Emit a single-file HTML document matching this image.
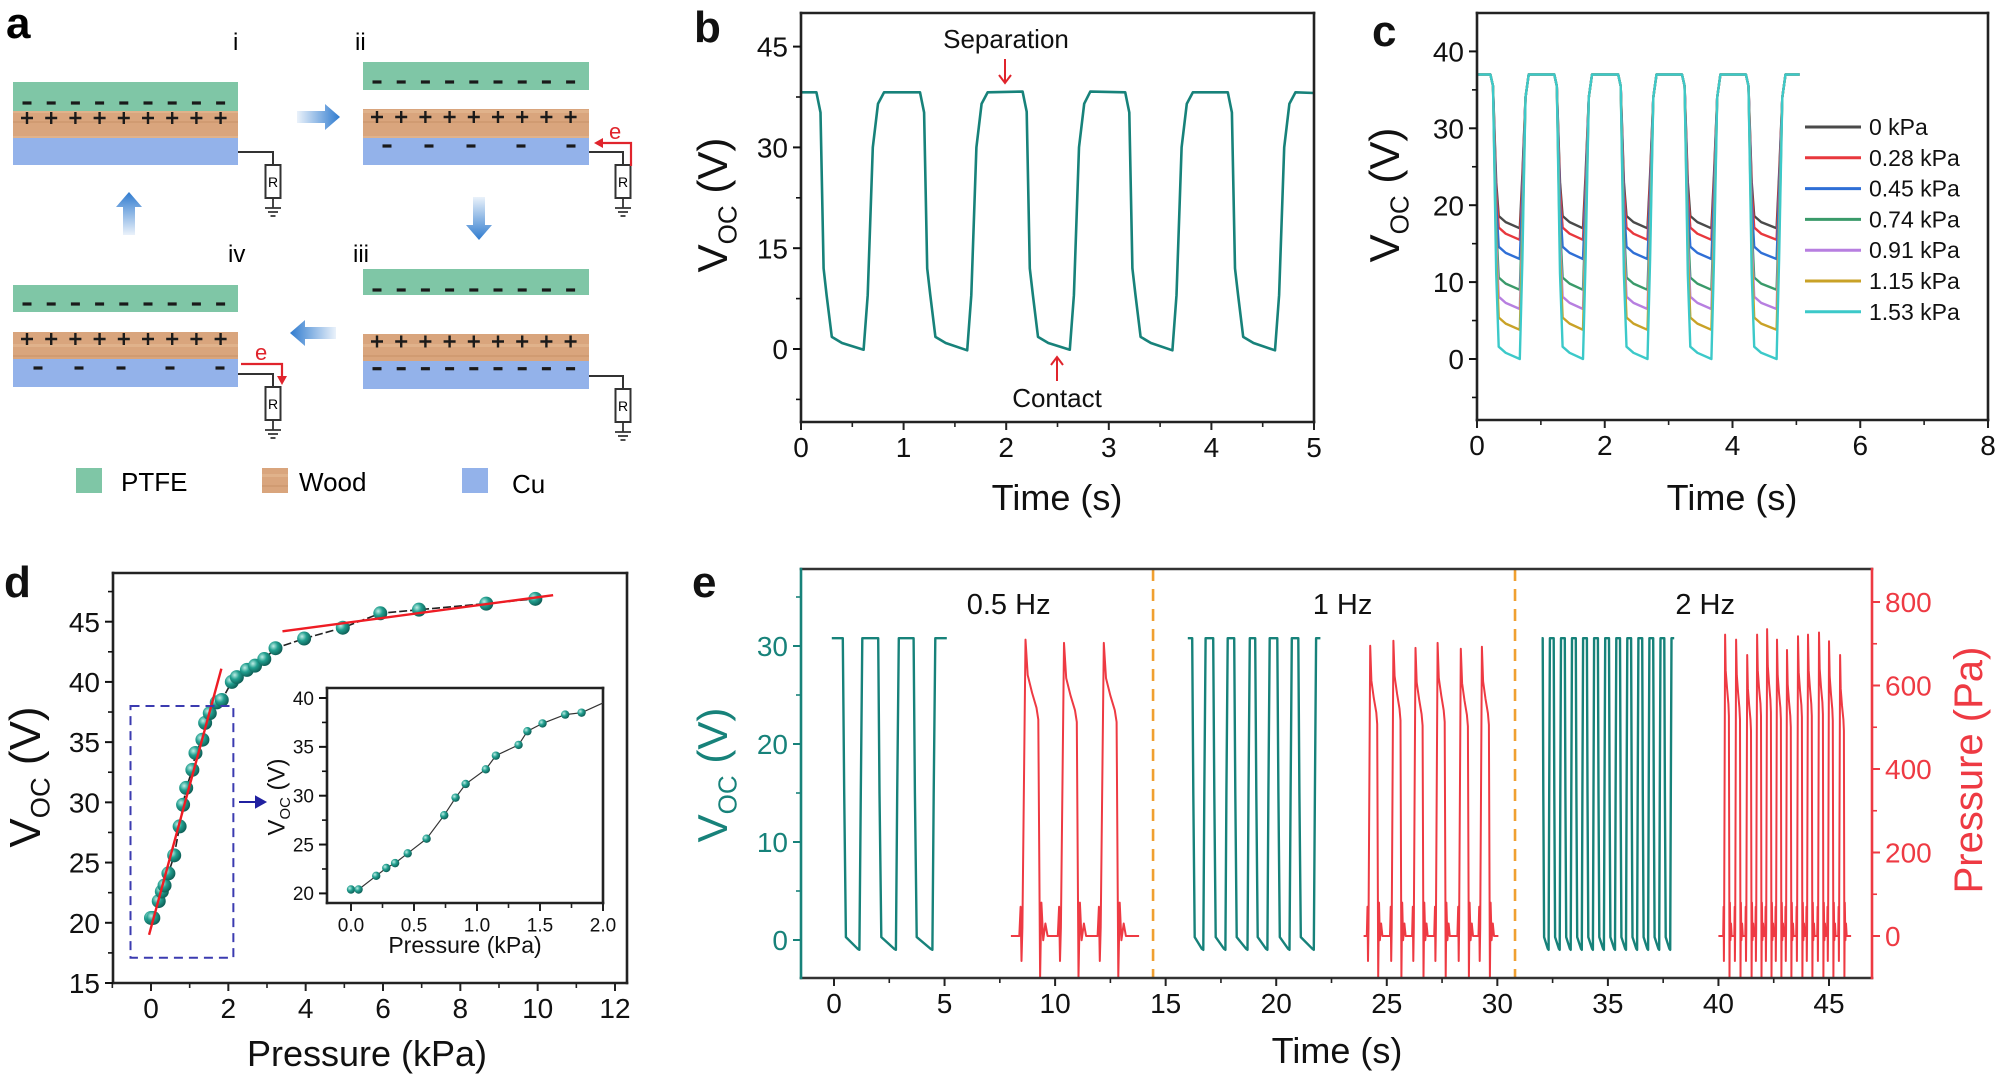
<!DOCTYPE html>
<html><head><meta charset="utf-8"><title>TENG figure</title>
<style>
html,body{margin:0;padding:0;background:#fff;}
svg{display:block;font-family:"Liberation Sans",Arial,sans-serif;}
</style></head>
<body>
<svg id="fig" width="2000" height="1078" viewBox="0 0 2000 1078" xmlns="http://www.w3.org/2000/svg">
<defs>
<linearGradient id="arrR" x1="0" y1="0" x2="1" y2="0"><stop offset="0" stop-color="#2f7bcf" stop-opacity="0.1"/><stop offset="1" stop-color="#2f7bcf"/></linearGradient>
<linearGradient id="arrL" x1="1" y1="0" x2="0" y2="0"><stop offset="0" stop-color="#2f7bcf" stop-opacity="0.1"/><stop offset="1" stop-color="#2f7bcf"/></linearGradient>
<linearGradient id="arrD" x1="0" y1="0" x2="0" y2="1"><stop offset="0" stop-color="#2f7bcf" stop-opacity="0.1"/><stop offset="1" stop-color="#2f7bcf"/></linearGradient>
<linearGradient id="arrU" x1="0" y1="1" x2="0" y2="0"><stop offset="0" stop-color="#2f7bcf" stop-opacity="0.1"/><stop offset="1" stop-color="#2f7bcf"/></linearGradient>
<radialGradient id="ball" cx="0.35" cy="0.35" r="0.7"><stop offset="0" stop-color="#bfeee6"/><stop offset="0.45" stop-color="#22a090"/><stop offset="1" stop-color="#0c5a52"/></radialGradient>
<pattern id="woodPat" width="40" height="26" patternUnits="userSpaceOnUse"><rect width="40" height="26" fill="#d9a57d"/><rect y="6" width="40" height="3" fill="#e3b892" opacity="0.7"/><rect y="17" width="40" height="2" fill="#c9946b" opacity="0.6"/></pattern>
</defs>

<g id="panelA">
<text x="6" y="38" font-size="44" font-weight="bold">a</text>
<text x="233" y="50" font-size="24">i</text>
<text x="355" y="50" font-size="24">ii</text>
<text x="353" y="262" font-size="24">iii</text>
<text x="228" y="262" font-size="24">iv</text>
<!-- block i -->
<rect x="13" y="82" width="225" height="30" fill="#7fc6a6"/>
<rect x="13" y="111" width="225" height="27" fill="url(#woodPat)"/>
<rect x="13" y="138" width="225" height="27" fill="#93b2ea"/>
<!-- block ii -->
<rect x="363" y="62" width="226" height="28" fill="#7fc6a6"/>
<rect x="363" y="109" width="226" height="29" fill="url(#woodPat)"/>
<rect x="363" y="138" width="226" height="27" fill="#93b2ea"/>
<!-- block iii -->
<rect x="363" y="269" width="226" height="26" fill="#7fc6a6"/>
<rect x="363" y="334" width="226" height="28" fill="url(#woodPat)"/>
<rect x="363" y="361" width="226" height="28" fill="#93b2ea"/>
<!-- block iv -->
<rect x="13" y="285" width="225" height="27" fill="#7fc6a6"/>
<rect x="13" y="332" width="225" height="27" fill="url(#woodPat)"/>
<rect x="13" y="359" width="225" height="28" fill="#93b2ea"/>
<g id="signs"></g>
<g id="circuits"></g>
<!-- arrows -->
<polygon points="297,111 325,111 325,104 340,117 325,130 325,123 297,123" fill="url(#arrR)"/>
<polygon points="473,197 485,197 485,225 492,225 479,240 466,225 473,225" fill="url(#arrD)"/>
<polygon points="336,327 305,327 305,320 290,333 305,346 305,339 336,339" fill="url(#arrL)"/>
<polygon points="123,235 135,235 135,207 142,207 129,192 116,207 123,207" fill="url(#arrU)"/>
<!-- electron flows -->
<polyline points="631,166 631,143 600,143" fill="none" stroke="#e0242c" stroke-width="2.2"/>
<polygon points="594,143 603,138 603,148" fill="#e0242c"/>
<text x="609" y="139" font-size="22" fill="#e0242c">e</text>
<polyline points="241,364 282,364 282,378" fill="none" stroke="#e0242c" stroke-width="2.2"/>
<polygon points="282,385 277,376 287,376" fill="#e0242c"/>
<text x="255" y="360" font-size="22" fill="#e0242c">e</text>
<!-- legend -->
<rect x="76" y="468" width="26" height="25" fill="#7fc6a6"/>
<text x="121" y="491" font-size="26">PTFE</text>
<rect x="262" y="468" width="26" height="25" fill="url(#woodPat)"/>
<text x="299" y="491" font-size="26">Wood</text>
<rect x="462" y="468" width="26" height="25" fill="#93b2ea"/>
<text x="512" y="493" font-size="26">Cu</text>
</g>

<g id="panelB"></g>
<g id="panelC"></g>
<g id="panelD"></g>
<g id="panelE"></g>
</svg>

<script>
// ---------------- data: panel b ----------------
const bFall = [0.15, 1.16, 2.16, 3.16, 4.16];
const bRise = [0.63, 1.64, 2.64, 3.64, 4.64];
const bHigh = [38.2, 38.2, 38.3, 38.2, 38.2];
const bLow = [-0.1, -0.2, -0.1, -0.2, -0.2];
const bYTicks = [0, 15, 30, 45];
const bXTicks = [0, 1, 2, 3, 4, 5];

// ---------------- data: panel c ----------------
const cLabels = ['0 kPa', '0.28 kPa', '0.45 kPa', '0.74 kPa', '0.91 kPa', '1.15 kPa', '1.53 kPa'];
const cLows = [17, 15.5, 13, 9, 6.5, 3.8, 0];
const cColors = ['#4a4a4a', '#e8383d', '#2f6fd6', '#3a9a6a', '#b77fe0', '#c9a227', '#3cc9c9'];
const cFall = [0.25, 1.25, 2.25, 3.25, 4.25];
const cRise = [0.68, 1.67, 2.68, 3.68, 4.70];
const cHigh = [37, 37, 37, 37, 37];
const cYTicks = [0, 10, 20, 30, 40];
const cXTicks = [0, 2, 4, 6, 8];

// ---------------- data: panel d ----------------
const dP = [0, 0.06, 0.2, 0.28, 0.35, 0.45, 0.6, 0.74, 0.83, 0.91, 1.07, 1.15, 1.33, 1.40, 1.52, 1.70, 1.83, 2.09, 2.22, 2.48, 2.69, 2.93, 3.22, 3.96, 4.96, 5.93, 6.93, 8.67, 9.94];
const dV = [20.4, 20.4, 21.8, 22.6, 23.1, 24.1, 25.6, 28.0, 29.8, 31.2, 32.7, 34.1, 35.2, 36.6, 37.4, 38.3, 38.5, 40.0, 40.4, 41.0, 41.35, 41.9, 42.8, 43.6, 44.5, 45.7, 46.0, 46.5, 46.9];
const dFit1P = [-0.05, 1.82];
const dFit1V = [19.0, 41.1];
const dFit2P = [3.4, 10.4];
const dFit2V = [44.2, 47.2];
const dYTicks = [15, 20, 25, 30, 35, 40, 45];
const dXTicks = [0, 2, 4, 6, 8, 10, 12];
const insetYTicks = [20, 25, 30, 35, 40];
const insetXTicks = [0.0, 0.5, 1.0, 1.5, 2.0];

// ---------------- data: panel e ----------------
const eFall05 = [0.4, 2.0, 3.6];
const eRise05 = [1.15, 2.8, 4.45];
const eFall1 = [16.2, 17.15, 18.1, 19.05, 20.05, 21.0];
const eRise1 = [16.7, 17.7, 18.7, 19.6, 20.6, 21.7];
const eFall2 = [32.05, 32.55, 33.05, 33.55, 34.05, 34.55, 35.05, 35.55, 36.05, 36.55, 37.05, 37.55];
const eRise2 = [32.32, 32.82, 33.32, 33.82, 34.32, 34.82, 35.32, 35.82, 36.32, 36.82, 37.32, 37.82];
const ePeakT05 = [8.66, 10.4, 12.2];
const ePeakP05 = [710, 702, 702];
const ePeakT1 = [24.25, 25.3, 26.3, 27.3, 28.35, 29.3];
const ePeakP1 = [695, 707, 690, 702, 688, 693];
const ePeakT2 = [40.3, 40.8, 41.3, 41.75, 42.2, 42.65, 43.1, 43.6, 44.05, 44.55, 45.0, 45.5];
const ePeakP2 = [722, 710, 673, 722, 735, 710, 685, 718, 722, 727, 706, 673];
const eYTicks = [0, 10, 20, 30];
const eY2Ticks = [0, 200, 400, 600, 800];
const eXTicks = [0, 5, 10, 15, 20, 25, 30, 35, 40, 45];
const eDividers = [14.43, 30.8];
const eFreqLabels = ['0.5 Hz', '1 Hz', '2 Hz'];
const eFreqT = [7.9, 23.0, 39.4];

// ---------------- helpers ----------------
const NS = 'http://www.w3.org/2000/svg';
function mk(tag, parent, attrs) {
  const e = document.createElementNS(NS, tag);
  for (const k in attrs) e.setAttribute(k, attrs[k]);
  parent.appendChild(e);
  return e;
}
function lin(d0, d1, r0, r1) { return v => r0 + (v - d0) * (r1 - r0) / (d1 - d0); }
function pathD(pts, sx, sy) { return pts.map((p, i) => (i ? 'L' : 'M') + sx(p[0]).toFixed(1) + ',' + sy(p[1]).toFixed(1)).join(''); }

function frame(g, box, name, colors) {
  const c = colors || {};
  const sides = [['top', box.l, box.t, box.r, box.t], ['bottom', box.l, box.b, box.r, box.b], ['left', box.l, box.t, box.l, box.b], ['right', box.r, box.t, box.r, box.b]];
  sides.forEach(s => {
    const ln = mk('line', g, { x1: s[1], y1: s[2], x2: s[3], y2: s[4], stroke: c[s[0]] || '#222', 'stroke-width': 2.6, 'stroke-linecap': 'square' });
    
    
  });
}
function xTicks(g, vals, sx, y, fs, name, minorVals, labelFmt) {
  vals.forEach(v => {
    const t = mk('line', g, { x1: sx(v), y1: y, x2: sx(v), y2: y + 8, stroke: '#222', 'stroke-width': 2 });
    
    
    const tx = mk('text', g, { x: sx(v), y: y + 14 + fs * 0.75, 'font-size': fs, 'text-anchor': 'middle', fill: '#111' });
    tx.textContent = labelFmt ? labelFmt(v) : String(v);
    
    
  });
  (minorVals || []).forEach(v => {
    const t = mk('line', g, { x1: sx(v), y1: y, x2: sx(v), y2: y + 5, stroke: '#222', 'stroke-width': 1.6 });
    
    
  });
}
function yTicks(g, vals, sy, x, fs, name, minorVals, color, right, labelFmt) {
  const col = color || '#111';
  const dir = right ? 1 : -1;
  vals.forEach(v => {
    const t = mk('line', g, { x1: x, y1: sy(v), x2: x + dir * 8, y2: sy(v), stroke: col, 'stroke-width': 2 });
    
    
    const tx = mk('text', g, { x: x + dir * 13, y: sy(v) + fs * 0.36, 'font-size': fs, 'text-anchor': right ? 'start' : 'end', fill: col });
    tx.textContent = labelFmt ? labelFmt(v) : String(v);
    
    
  });
  (minorVals || []).forEach(v => {
    const t = mk('line', g, { x1: x, y1: sy(v), x2: x + dir * 5, y2: sy(v), stroke: col, 'stroke-width': 1.6 });
    
    
  });
}
function vocTitle(g, cx, cy, fs, color, name) {
  const t = mk('text', g, { transform: 'translate(' + (cx + fs * 0.36) + ',' + cy + ') rotate(-90)', 'font-size': fs, 'text-anchor': 'middle', fill: color || '#111' });
  t.innerHTML = 'V<tspan font-size="' + (fs * 0.62) + '" dy="' + (fs * 0.22) + '">OC</tspan><tspan dy="' + (-fs * 0.22) + '"> (V)</tspan>';
  
  
  return t;
}
function label(g, x, y, txt, fs, name, extra) {
  const a = Object.assign({ x: x, y: y, 'font-size': fs, fill: '#111' }, extra || {});
  const t = mk('text', g, a);
  t.textContent = txt;
  
  
  return t;
}

// ---------------- panel a: signs & circuits ----------------
(function () {
  const g = document.getElementById('signs');
  const rowsMinus9 = [[27, 103], [377, 82], [377, 290], [27, 304], [377, 368.7]];
  rowsMinus9.forEach(r => {
    for (let i = 0; i < 9; i++) {
      const m = mk('rect', g, { x: r[0] + i * 24.2 - 4.5, y: r[1] - 1.6, width: 9, height: 3.2, fill: '#1a1a1a' });
      
      
    }
  });
  const rowsPlus = [[27, 118], [377, 117], [377, 341.5], [27, 339]];
  rowsPlus.forEach(r => {
    for (let i = 0; i < 9; i++) {
      const cx = r[0] + i * 24.2;
      const p = mk('path', g, { d: 'M' + (cx - 6) + ',' + r[1] + 'h12M' + cx + ',' + (r[1] - 6) + 'v12', stroke: '#1a1a1a', 'stroke-width': 2.4 });
      
      
    }
  });
  const cuMinus5 = [[[387, 429, 471, 521, 571], 146], [[38, 79, 121, 170, 220], 368]];
  cuMinus5.forEach(r => {
    r[0].forEach(x => {
      const m = mk('rect', g, { x: x - 4.5, y: r[1] - 1.6, width: 9, height: 3.2, fill: '#1a1a1a' });
      
      
    });
  });
  const cg = document.getElementById('circuits');
  const circuits = [[238, 152, 273, 165], [589, 152, 623, 165], [589, 376, 623, 389], [238, 374, 273, 387]];
  circuits.forEach(c => {
    const w = mk('polyline', cg, { points: c[0] + ',' + c[1] + ' ' + c[2] + ',' + c[1] + ' ' + c[2] + ',' + c[3], fill: 'none', stroke: '#333', 'stroke-width': 2 });
    
    
    const r = mk('rect', cg, { x: c[2] - 7.5, y: c[3], width: 15, height: 33, fill: '#fff', stroke: '#333', 'stroke-width': 2 });
    
    
    const t = mk('text', cg, { x: c[2], y: c[3] + 22, 'font-size': 14, 'text-anchor': 'middle' });
    t.textContent = 'R';
    
    
    const gr = mk('path', cg, { d: 'M' + c[2] + ',' + (c[3] + 33) + 'v10M' + (c[2] - 8) + ',' + (c[3] + 43) + 'h16M' + (c[2] - 5) + ',' + (c[3] + 47) + 'h10M' + (c[2] - 2.5) + ',' + (c[3] + 51) + 'h5', stroke: '#333', 'stroke-width': 1.8 });
    
    
  });
})();

// ---------------- panel b ----------------
(function () {
  const g = document.getElementById('panelB');
  const box = { l: 801, r: 1314, t: 13, b: 422 };
  const sx = lin(0, 5, 801, 1314), sy = lin(0, 45, 349, 46.6);
  label(g, 694, 42, 'b', 44, 'panel-label-b', { 'font-weight': 'bold' });
  const pts = [[0, bHigh[0]]];
  for (let i = 0; i < bFall.length; i++) {
    const f = bFall[i], r = bRise[i], H = bHigh[i], L = bLow[i];
    pts.push([f, H], [f + 0.04, H - 3], [f + 0.07, 12], [f + 0.1, 8], [f + 0.15, 1.8], [f + 0.25, 0.9], [r - 0.02, L], [r + 0.02, 8], [r + 0.07, 30], [r + 0.12, 36.5], [r + 0.18, H]);
  }
  pts.push([5, 38.1]);
  const p = mk('path', g, { d: pathD(pts, sx, sy), fill: 'none', stroke: '#17827a', 'stroke-width': 2.6, 'stroke-linejoin': 'round' });
  
  
  frame(g, box, 'panel-b');
  xTicks(g, bXTicks, sx, box.b, 28, 'panel-b', [0.5, 1.5, 2.5, 3.5, 4.5]);
  yTicks(g, bYTicks, sy, box.l, 28, 'panel-b', [-7.5, 7.5, 22.5, 37.5]);
  vocTitle(g, 712, 205, 42, '#111', 'panel-b-y-axis-title');
  label(g, 1057, 510, 'Time (s)', 36, 'panel-b-x-axis-title', { 'text-anchor': 'middle' });
  label(g, 1006, 48, 'Separation', 26, 'separation-annotation', { 'text-anchor': 'middle' });
  const a1 = mk('path', g, { d: 'M1005,59V82M999,75L1005,83L1011,75', fill: 'none', stroke: '#e0242c', 'stroke-width': 2 });
  
  
  label(g, 1057, 407, 'Contact', 26, 'contact-annotation', { 'text-anchor': 'middle' });
  const a2 = mk('path', g, { d: 'M1057,381V358M1051,365L1057,357L1063,365', fill: 'none', stroke: '#e0242c', 'stroke-width': 2 });
  
  
})();

// ---------------- panel c ----------------
(function () {
  const g = document.getElementById('panelC');
  const box = { l: 1477, r: 1988, t: 13, b: 420 };
  const sx = lin(0, 8, 1477, 1988), sy = lin(0, 40, 359, 51.4);
  label(g, 1372, 46, 'c', 44, 'panel-label-c', { 'font-weight': 'bold' });
  cLows.forEach((low, s) => {
    const pts = [[0, 37]];
    for (let i = 0; i < cFall.length; i++) {
      const f = cFall[i], r = cRise[i], H = cHigh[i];
      pts.push([f - 0.04, H], [f, H - 1.5], [f + 0.05, low + (H - low) * 0.3], [f + 0.09, low + 1.6], [f + 0.2, low + 0.8], [r - 0.01, low], [r + 0.03, low + (H - low) * 0.35], [r + 0.08, H - 3], [r + 0.13, H]);
    }
    pts.push([5.05, 37]);
    const p = mk('path', g, { d: pathD(pts, sx, sy), fill: 'none', stroke: cColors[s], 'stroke-width': 2.4, 'stroke-linejoin': 'round' });
    
    
    const ly = 127 + s * 30.8;
    const ll = mk('line', g, { x1: 1805, y1: ly, x2: 1861, y2: ly, stroke: cColors[s], 'stroke-width': 3 });
    
    
    label(g, 1869, ly + 8, cLabels[s], 23, 'legend-entry');
  });
  frame(g, box, 'panel-c');
  xTicks(g, cXTicks, sx, box.b, 28, 'panel-c', [1, 3, 5, 7]);
  yTicks(g, cYTicks, sy, box.l, 28, 'panel-c', [-5, 5, 15, 25, 35]);
  vocTitle(g, 1384, 195, 42, '#111', 'panel-c-y-axis-title');
  label(g, 1732, 510, 'Time (s)', 36, 'panel-c-x-axis-title', { 'text-anchor': 'middle' });
})();

// ---------------- panel d ----------------
(function () {
  const g = document.getElementById('panelD');
  const box = { l: 113, r: 627, t: 573, b: 983 };
  const sx = lin(0, 12, 151, 615), sy = lin(15, 45, 983, 621.7);
  label(g, 4, 597, 'd', 44, 'panel-label-d', { 'font-weight': 'bold' });
  frame(g, box, 'panel-d');
  xTicks(g, dXTicks, sx, box.b, 28, 'panel-d', [-1, 1, 3, 5, 7, 9, 11]);
  yTicks(g, dYTicks, sy, box.l, 28, 'panel-d', [17.5, 22.5, 27.5, 32.5, 37.5, 42.5, 47.5]);
  vocTitle(g, 24, 777, 44, '#111', 'panel-d-y-axis-title');
  label(g, 367, 1066, 'Pressure (kPa)', 36, 'panel-d-x-axis-title', { 'text-anchor': 'middle' });
  const conn = mk('path', g, { d: pathD(dP.map((p, i) => [p, dV[i]]), sx, sy), fill: 'none', stroke: '#222', 'stroke-width': 1.6, 'stroke-dasharray': '8,3' });
  
  
  dP.forEach((p, i) => {
    const c = mk('circle', g, { cx: sx(p), cy: sy(dV[i]), r: 7, fill: 'url(#ball)' });
    
    
  });
  const f1 = mk('line', g, { x1: sx(dFit1P[0]), y1: sy(dFit1V[0]), x2: sx(dFit1P[1]), y2: sy(dFit1V[1]), stroke: '#ee1c24', 'stroke-width': 2.4 });
  
  
  const f2 = mk('line', g, { x1: sx(dFit2P[0]), y1: sy(dFit2V[0]), x2: sx(dFit2P[1]), y2: sy(dFit2V[1]), stroke: '#ee1c24', 'stroke-width': 2.4 });
  
  
  const db = mk('rect', g, { x: sx(-0.53), y: sy(38.0), width: sx(2.13) - sx(-0.53), height: sy(17.1) - sy(38.0), fill: 'none', stroke: '#3b3bb0', 'stroke-width': 2, 'stroke-dasharray': '9,6' });
  
  
  const ar = mk('path', g, { d: 'M239,802H262M256,797L265,802L256,807Z', fill: '#2020a0', stroke: '#2020a0', 'stroke-width': 2 });
  
  
  // inset
  const ib = { l: 327, r: 603, t: 688, b: 903 };
  const ix = lin(0, 2, 351, 603), iy = lin(20, 40, 893.4, 698);
  frame(g, ib, 'inset');
  xTicks(g, insetXTicks, ix, ib.b, 19, 'inset', [0.25, 0.75, 1.25, 1.75], v => v.toFixed(1));
  yTicks(g, insetYTicks, iy, ib.l, 19, 'inset', [22.5, 27.5, 32.5, 37.5]);
  vocTitle(g, 276, 797, 24, '#111', 'inset-y-axis-title');
  label(g, 465, 953, 'Pressure (kPa)', 23, 'inset-x-axis-title', { 'text-anchor': 'middle' });
  const ipts = [];
  dP.forEach((p, i) => { if (p <= 1.9) ipts.push([p, dV[i]]); });
  ipts.push([2.0, 39.5]);
  const il = mk('path', g, { d: pathD(ipts, ix, iy), fill: 'none', stroke: '#333', 'stroke-width': 1.2 });
  
  
  dP.forEach((p, i) => {
    if (p > 1.9) return;
    const c = mk('circle', g, { cx: ix(p), cy: iy(dV[i]), r: 4.2, fill: 'url(#ball)' });
    
    
  });
})();

// ---------------- panel e ----------------
(function () {
  const g = document.getElementById('panelE');
  const box = { l: 801, r: 1872, t: 569, b: 978 };
  const sx = lin(0, 45, 834, 1829), sy = lin(0, 30, 940, 646), sy2 = lin(0, 800, 936, 602);
  const teal = '#17827a', red = '#ee3a43';
  label(g, 692, 597, 'e', 44, 'panel-label-e', { 'font-weight': 'bold' });
  eDividers.forEach(t => {
    const l = mk('line', g, { x1: sx(t), y1: box.t, x2: sx(t), y2: box.b, stroke: '#f0a030', 'stroke-width': 2.6, 'stroke-dasharray': '12,8' });
    
    
  });
  function tealTrace(falls, rises, t0, t1, k, name) {
    const H = 30.8;
    const pts = [[t0, H]];
    falls.forEach((f, i) => {
      const r = rises[i];
      pts.push([f, H], [f + 0.06 * k, 15], [f + 0.14 * k, 0.3], [r - 0.08 * k, -0.9], [r, -1], [r + 0.06 * k, 15], [r + 0.13 * k, H]);
    });
    pts.push([t1, H]);
    const p = mk('path', g, { d: pathD(pts, sx, sy), fill: 'none', stroke: teal, 'stroke-width': 2.4, 'stroke-linejoin': 'round' });
    
    
  }
  tealTrace(eFall05, eRise05, -0.1, 5.1, 1, 'voc-trace-0.5hz');
  tealTrace(eFall1, eRise1, 16.0, 22.0, 0.8, 'voc-trace-1hz');
  tealTrace(eFall2, eRise2, 32.0, 38.0, 0.45, 'voc-trace-2hz');
  function redTrace(peaksT, peaksP, t0, t1, k, name) {
    const pts = [[t0, 0]];
    peaksT.forEach((tp, i) => {
      const P = peaksP[i];
      pts.push([tp - 0.28 * k, 0], [tp - 0.22 * k, 70], [tp - 0.18 * k, -60], [tp - 0.14 * k, 20], [tp, P], [tp + 0.1 * k, 0.88 * P], [tp + 0.3 * k, 0.82 * P], [tp + 0.5 * k, 0.77 * P], [tp + 0.58 * k, 0.73 * P], [tp + 0.66 * k, -100], [tp + 0.72 * k, 80], [tp + 0.8 * k, -10], [tp + 0.9 * k, 30], [tp + 1.0 * k, 0]);
    });
    pts.push([t1, 0]);
    const p = mk('path', g, { d: pathD(pts, sx, sy2), fill: 'none', stroke: red, 'stroke-width': 2, 'stroke-linejoin': 'round' });
    
    
  }
  redTrace(ePeakT05, ePeakP05, 8.0, 13.8, 1, 'pressure-trace-0.5hz');
  redTrace(ePeakT1, ePeakP1, 23.95, 30.05, 0.55, 'pressure-trace-1hz');
  redTrace(ePeakT2, ePeakP2, 40.0, 46.0, 0.3, 'pressure-trace-2hz');
  frame(g, box, 'panel-e', { left: teal, right: red, top: '#333', bottom: '#333' });
  xTicks(g, eXTicks, sx, box.b, 28, 'panel-e', [2.5, 7.5, 12.5, 17.5, 22.5, 27.5, 32.5, 37.5, 42.5]);
  yTicks(g, eYTicks, sy, box.l, 28, 'panel-e-left', [5, 15, 25, 35], teal);
  yTicks(g, eY2Ticks, sy2, box.r, 28, 'panel-e-right', [100, 300, 500, 700], red, true);
  vocTitle(g, 712, 775, 42, teal, 'panel-e-left-y-axis-title');
  const rt = mk('text', g, { transform: 'translate(1982,770) rotate(-90)', 'font-size': 40, 'text-anchor': 'middle', fill: red });
  rt.textContent = 'Pressure (Pa)';
  
  
  label(g, 1337, 1063, 'Time (s)', 36, 'panel-e-x-axis-title', { 'text-anchor': 'middle' });
  eFreqLabels.forEach((s, i) => {
    label(g, sx(eFreqT[i]), 614, s, 29, 'frequency-label', { 'text-anchor': 'middle' });
  });
})();
</script>
</body></html>
